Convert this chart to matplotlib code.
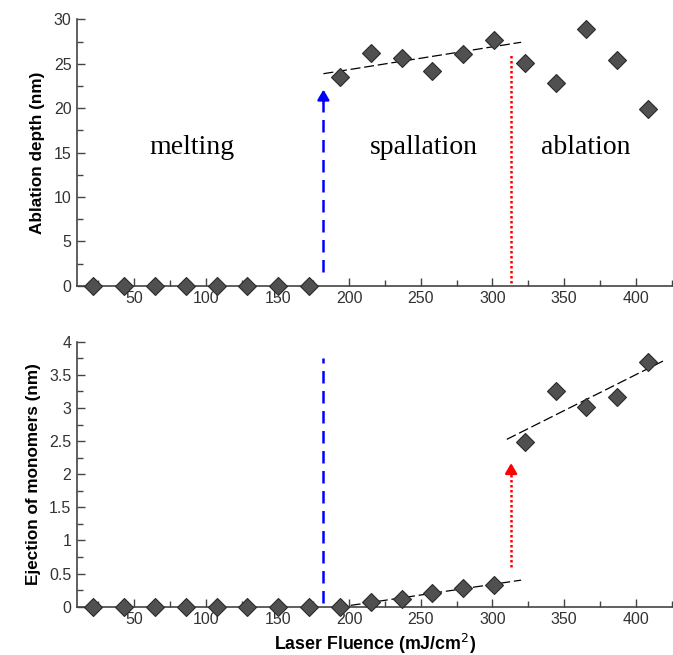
import numpy as np
import matplotlib
matplotlib.use('Agg')
import matplotlib.pyplot as plt
from matplotlib.ticker import MultipleLocator, FormatStrFormatter

# laser fluence (mJ/cm2)
fluence = [21.5, 43, 64.5, 86, 107.5, 129, 150.5, 172, 193.5, 215,
           236.5, 258, 279.5, 301, 322.5, 344, 365.5, 387, 408.5]
# ablation depth (nm)
depth = [0, 0, 0, 0, 0, 0, 0, 0, 23.5, 26.2,
         25.6, 24.2, 26.1, 27.7, 25.1, 22.8, 28.9, 25.4, 19.9]
# ejection of monomers (nm)
monomers = [0, 0, 0, 0, 0, 0, 0, 0, 0, 0.07,
            0.11, 0.21, 0.29, 0.33, 2.49, 3.26, 3.02, 3.17, 3.70]

# regime boundaries
spall_start = 182
ablation_start = 313

regions = ['melting', 'spallation', 'ablation']
region_x = [90, 252, 365]

fluence = np.array(fluence)
depth = np.array(depth)
monomers = np.array(monomers)

spall = (fluence > spall_start) & (fluence < ablation_start)
abl = fluence > ablation_start

axis_col = '#444444'
mk = dict(marker='D', ms=9, mfc='#505050', mec='#2a2a2a', mew=0.8, ls='none', zorder=5, clip_on=False)

fig = plt.figure(figsize=(6.73, 6.55), dpi=100)
ax1 = fig.add_axes([0.1144, 0.5638, 0.8856, 0.4067])
ax2 = fig.add_axes([0.1144, 0.0737, 0.8856, 0.4046])


def style(ax, ymax, major, minor, fmt):
    ax.set_xlim(10, 426)
    ax.set_ylim(0, ymax)
    for s in ['top', 'right']:
        ax.spines[s].set_visible(False)
    for s in ['left', 'bottom']:
        ax.spines[s].set_color(axis_col)
        ax.spines[s].set_linewidth(1.2)
    ax.xaxis.set_major_locator(MultipleLocator(50))
    ax.xaxis.set_minor_locator(MultipleLocator(25))
    ax.yaxis.set_major_locator(MultipleLocator(major))
    ax.yaxis.set_minor_locator(MultipleLocator(minor))
    ax.yaxis.set_major_formatter(FormatStrFormatter(fmt))
    ax.tick_params(which='major', direction='in', length=6, width=1, color=axis_col,
                   labelsize=11.5, labelcolor='#333333', pad=4)
    ax.tick_params(which='minor', direction='in', length=4, width=1, color=axis_col)
    for lab in ax.get_xticklabels() + ax.get_yticklabels():
        lab.set_fontfamily('Liberation Sans')


style(ax1, 30, 5, 2.5, '%g')
style(ax2, 4, 0.5, 0.25, '%g')

# top panel
ax1.plot(fluence, depth, **mk)
p = np.polyfit(fluence[spall], depth[spall], 1)
xs = np.array([spall_start, 320])
ax1.plot(xs, np.polyval(p, xs), color='black', lw=0.9, dashes=(8, 3), zorder=4)
ax1.plot([spall_start, spall_start], [1.5, 21.5], color='blue', lw=1.8, dashes=(5, 3))
ax1.annotate('', xy=(spall_start, 22.4), xytext=(spall_start, 20.5),
             arrowprops=dict(arrowstyle='-|>,head_length=0.6,head_width=0.35', color='blue', lw=1.8))
ax1.plot([ablation_start, ablation_start], [0.3, 26.2], color='red', lw=1.8, dashes=(1, 1))
for name, x in zip(regions, region_x):
    ax1.text(x, 15.6, name, ha='center', va='center', fontsize=20, family='Liberation Serif')
ax1.set_ylabel('Ablation depth (nm)', fontsize=12.3, fontweight='bold', family='Liberation Sans', labelpad=6)

# bottom panel
ax2.plot(fluence, monomers, **mk)
p = np.polyfit(fluence[spall], monomers[spall], 1)
ax2.plot(xs, np.polyval(p, xs), color='black', lw=0.9, dashes=(8, 3), zorder=4)
p = np.polyfit(fluence[abl], monomers[abl], 1)
xs2 = np.array([310, 419])
ax2.plot(xs2, np.polyval(p, xs2), color='black', lw=0.9, dashes=(8, 3), zorder=4)
ax2.plot([spall_start, spall_start], [0.05, 3.75], color='blue', lw=1.8, dashes=(5, 3))
ax2.plot([ablation_start, ablation_start], [0.6, 2.05], color='red', lw=1.8, dashes=(1, 1))
ax2.annotate('', xy=(ablation_start, 2.21), xytext=(ablation_start, 2.0),
             arrowprops=dict(arrowstyle='-|>,head_length=0.6,head_width=0.35', color='red', lw=1.8))
ax2.set_ylabel('Ejection of monomers (nm)', fontsize=12.3, fontweight='bold', family='Liberation Sans', labelpad=6)
ax2.set_xlabel('Laser Fluence (mJ/cm$^2$)', fontsize=12.8, fontweight='bold', family='Liberation Sans', labelpad=3)

fig.savefig('out.png', dpi=100)
